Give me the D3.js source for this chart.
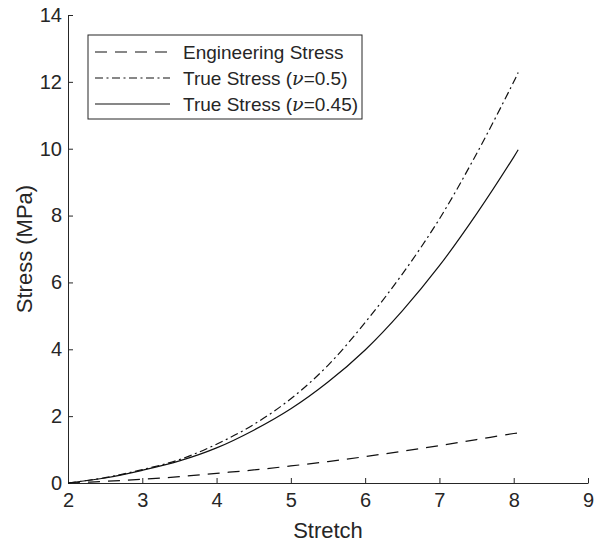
<!DOCTYPE html>
<html>
<head>
<meta charset="utf-8">
<script src="https://cdn.jsdelivr.net/npm/d3@7"></script>
<style>
  body { margin: 0; background: #fff; }
  text { font-family: "Liberation Sans", Arial, sans-serif; fill: #262626; }
</style>
</head>
<body>
<div id="chart"></div>
<script>
// Values
const stretch = [2, 2.5, 3, 3.5, 4, 4.5, 5, 5.5, 6, 6.5, 7, 7.5, 8, 8.06];
const engStress = [0, 0.05, 0.11, 0.19, 0.29, 0.39, 0.51, 0.64, 0.79, 0.95, 1.12, 1.30, 1.48, 1.50];
const trueStress05 = [0, 0.16, 0.40, 0.70, 1.16, 1.75, 2.52, 3.52, 4.80, 6.25, 7.90, 9.85, 12.0, 12.28];
const trueStress045 = [0, 0.15, 0.38, 0.66, 1.05, 1.58, 2.22, 3.02, 3.98, 5.15, 6.50, 8.05, 9.75, 9.97];

const xTicks = [2, 3, 4, 5, 6, 7, 8, 9];
const yTicks = [0, 2, 4, 6, 8, 10, 12, 14];

const seriesNames = ['Engineering Stress', 'True Stress (', 'True Stress ('];
const seriesNu = [null, '=0.5)', '=0.45)'];
const seriesDash = ['12,8', '8,3.5,2,3.5', null];
const seriesValues = [engStress, trueStress05, trueStress045];

const margin = {top: 15, right: 6, bottom: 60, left: 68};
const width = 594 - margin.left - margin.right,
  height = 543 - margin.top - margin.bottom;

const svg = d3.select('#chart').append('svg')
  .attr('width', width + margin.left + margin.right)
  .attr('height', height + margin.top + margin.bottom)
  .append('g')
  .attr('transform', `translate(${margin.left}, ${margin.top})`);

const xScale = d3.scaleLinear().domain([2, 9]).range([0, width]);
const yScale = d3.scaleLinear().domain([0, 14]).range([height, 0]);

// MATLAB style axes: inward ticks, no box
const xAxis = d3.axisBottom(xScale).tickValues(xTicks).tickFormat(d3.format('d'))
  .tickSize(-5).tickSizeOuter(0).tickPadding(10);
const yAxis = d3.axisLeft(yScale).tickValues(yTicks).tickFormat(d3.format('d'))
  .tickSize(-5).tickSizeOuter(0).tickPadding(6);

const xAxisGroup = svg.append('g')
  .attr('transform', `translate(0, ${height})`)
  .call(xAxis);
const yAxisGroup = svg.append('g').call(yAxis);

[xAxisGroup, yAxisGroup].forEach(g => {
  g.select('.domain').attr('stroke', '#262626');
  g.selectAll('.tick line').attr('stroke', '#262626');
  g.selectAll('.tick text').attr('font-size', 20).attr('fill', '#262626')
    .attr('font-family', '"Liberation Sans", Arial, sans-serif');
});

// Axis labels
svg.append('text')
  .attr('x', width / 2)
  .attr('y', height + 55)
  .attr('text-anchor', 'middle')
  .attr('font-size', 22)
  .text('Stretch');

svg.append('text')
  .attr('transform', `translate(${-36}, ${height / 2}) rotate(-90)`)
  .attr('text-anchor', 'middle')
  .attr('font-size', 22)
  .text('Stress (MPa)');

// Curves
const line = d3.line()
  .x(d => xScale(d[0]))
  .y(d => yScale(d[1]))
  .curve(d3.curveCatmullRom.alpha(0.5));

seriesValues.forEach((vals, i) => {
  svg.append('path')
    .datum(stretch.map((s, j) => [s, vals[j]]))
    .attr('fill', 'none')
    .attr('stroke', '#111')
    .attr('stroke-width', 1.2)
    .attr('stroke-dasharray', seriesDash[i])
    .attr('d', line);
});

// Legend
const legend = svg.append('g').attr('transform', `translate(${88 - margin.left}, ${35 - margin.top})`);
legend.append('rect')
  .attr('width', 274)
  .attr('height', 84)
  .attr('fill', '#fff')
  .attr('stroke', '#262626')
  .attr('stroke-width', 1);

seriesNames.forEach((name, i) => {
  const yy = 17 + i * 26;
  legend.append('line')
    .attr('x1', 7).attr('x2', 82)
    .attr('y1', yy).attr('y2', yy)
    .attr('stroke', '#111')
    .attr('stroke-width', 1.2)
    .attr('stroke-dasharray', seriesDash[i]);
  const t = legend.append('text')
    .attr('x', 95)
    .attr('y', yy)
    .attr('dy', '0.35em')
    .attr('font-size', 19)
    .text(name);
  if (seriesNu[i]) {
    t.append('tspan').attr('font-family', '"DejaVu Serif", "Liberation Serif", serif')
      .attr('font-style', 'italic').text('\u03BD');
    t.append('tspan').text(seriesNu[i]);
  }
});
</script>
</body>
</html>
